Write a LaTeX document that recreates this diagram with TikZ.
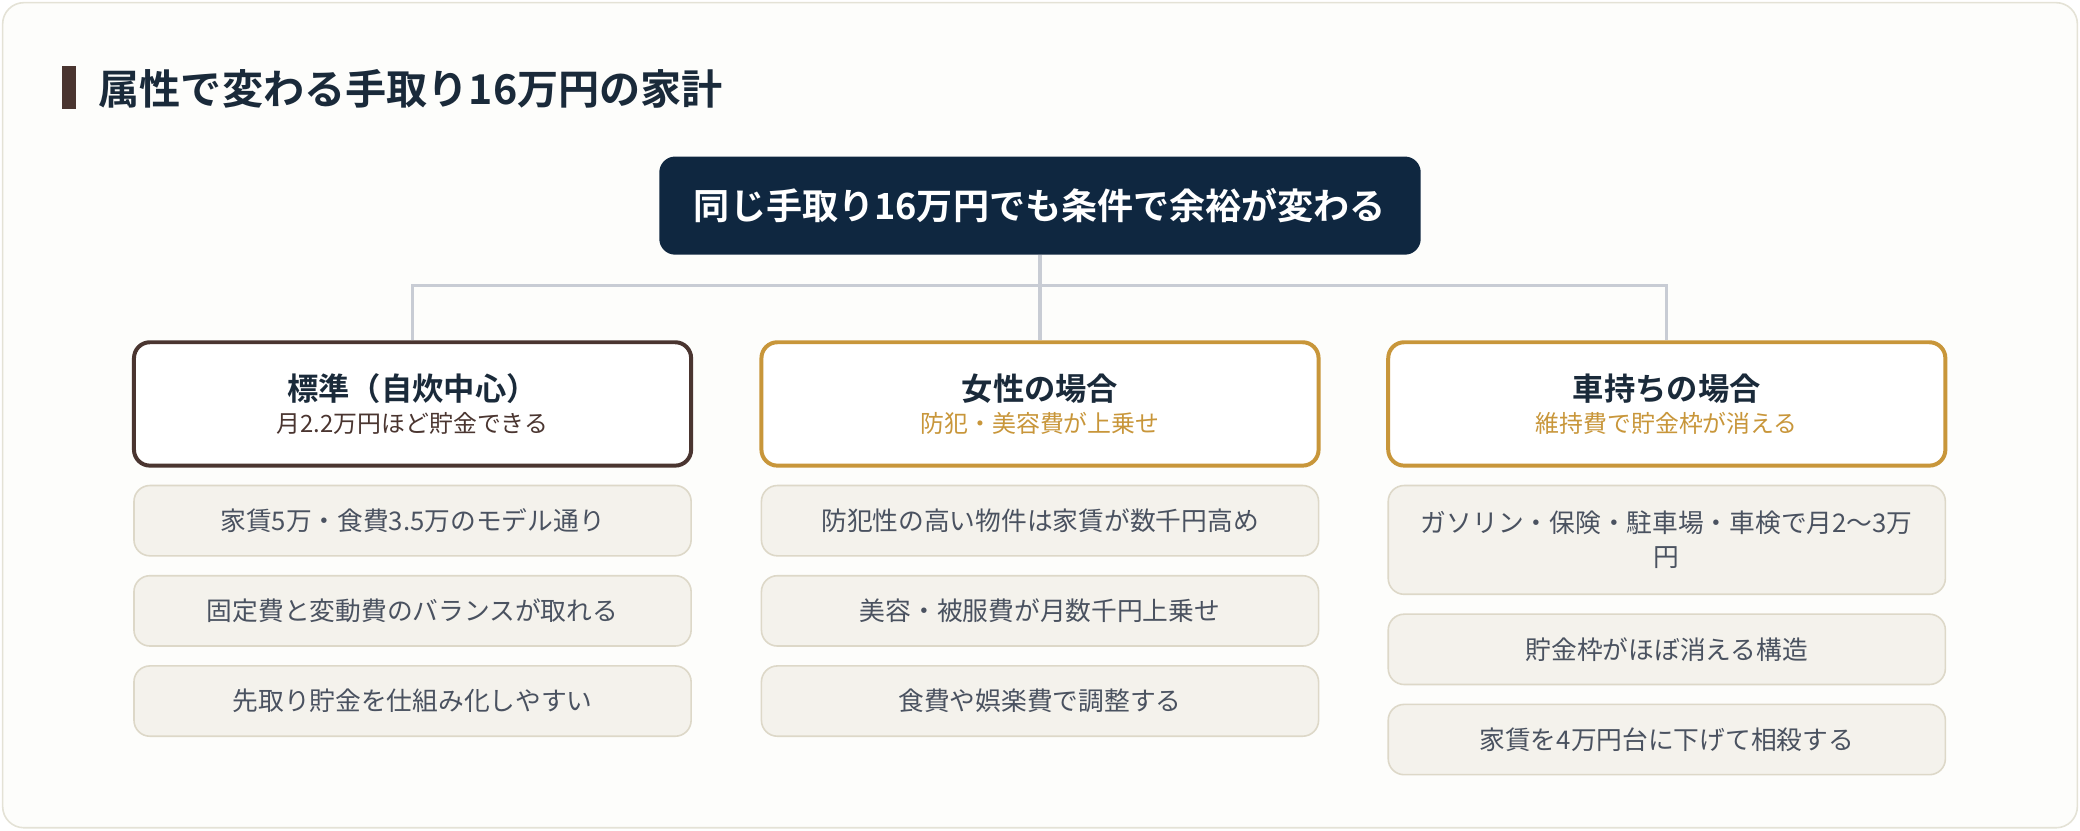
\documentclass[tikz,border=0pt]{standalone}
\usepackage{fontspec}
\setmainfont{Noto Sans CJK JP}[BoldFont=Noto Sans CJK JP Bold]
\definecolor{navy}{HTML}{0F2740}
\definecolor{ttl}{HTML}{1A2A3A}
\definecolor{brn}{HTML}{4A3530}
\definecolor{gold}{HTML}{C8963A}
\definecolor{itemfill}{HTML}{F4F2EC}
\definecolor{itemline}{HTML}{DDD8C8}
\definecolor{itemtext}{HTML}{4A5260}
\definecolor{conn}{HTML}{C8CCD4}
\definecolor{frame}{HTML}{E4E2D6}
\begin{document}
\begin{tikzpicture}[x=0.5pt,y=-0.5pt,
  col/.style={draw, line width=1.5pt, fill=white, rounded corners=6pt, minimum width=210pt, minimum height=46.5pt, align=center, inner sep=0pt},
  item/.style={draw=itemline, line width=0.6pt, fill=itemfill, rounded corners=6pt, minimum width=210pt, minimum height=26.5pt, align=center, text=itemtext, font=\fontsize{9.7pt}{13pt}\selectfont, inner sep=0pt},
  ln/.style={draw=conn, line width=1.2pt}]
\useasboundingbox (0,0) rectangle (1568,626);
\draw[frame, line width=0.6pt, fill={rgb,255:red,253;green,253;blue,251}, rounded corners=8pt] (2,2) rectangle (1566,624);
\fill[brn] (47,50) rectangle (57,82);
\node[anchor=west, text=ttl, font=\bfseries\fontsize{15.5pt}{18pt}\selectfont, inner sep=0pt] (title) at (74,67) {属性で変わる手取り16万円の家計};
\node[fill=navy, rounded corners=6pt, minimum width=287pt, minimum height=37pt, text=white, font=\bfseries\fontsize{13.6pt}{16pt}\selectfont] (top) at (784,155) {同じ手取り16万円でも条件で余裕が変わる};
\node[col, draw=brn] (c1) at (311,304.5) {{\bfseries\fontsize{11.8pt}{15pt}\selectfont\color{ttl}標準（自炊中心）}\\[0pt]{\fontsize{9pt}{11pt}\selectfont\color{brn}月2.2万円ほど貯金できる}};
\node[col, draw=gold] (c2) at (784,304.5) {{\bfseries\fontsize{11.8pt}{15pt}\selectfont\color{ttl}女性の場合}\\[0pt]{\fontsize{9pt}{11pt}\selectfont\color{gold}防犯・美容費が上乗せ}};
\node[col, draw=gold] (c3) at (1256.5,304.5) {{\bfseries\fontsize{11.8pt}{15pt}\selectfont\color{ttl}車持ちの場合}\\[0pt]{\fontsize{9pt}{11pt}\selectfont\color{gold}維持費で貯金枠が消える}};
\coordinate (j) at (784,215);
\draw[ln] (top.south) -- (j);
\draw[ln] (c1.north) |- (j) -| (c3.north);
\draw[ln] (j) -- (c2.north);
\node[item] (a1) at (311,392.5) {家賃5万・食費3.5万のモデル通り};
\node[item] (a2) at (311,460.5) {固定費と変動費のバランスが取れる};
\node[item] (a3) at (311,528.5) {先取り貯金を仕組み化しやすい};
\node[item] (b1) at (784,392.5) {防犯性の高い物件は家賃が数千円高め};
\node[item] (b2) at (784,460.5) {美容・被服費が月数千円上乗せ};
\node[item] (b3) at (784,528.5) {食費や娯楽費で調整する};
\node[item, minimum height=41pt] (d1) at (1256.5,407) {ガソリン・保険・駐車場・車検で月2〜3万\\円};
\node[item] (d2) at (1256.5,489.5) {貯金枠がほぼ消える構造};
\node[item] (d3) at (1256.5,557.5) {家賃を4万円台に下げて相殺する};
\end{tikzpicture}
\end{document}
